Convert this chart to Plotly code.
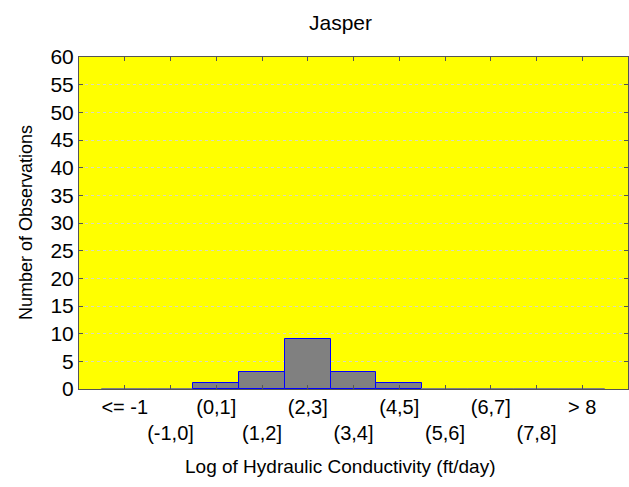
import plotly.graph_objects as go

categories = ["<= -1", "(-1,0]", "(0,1]", "(1,2]", "(2,3]", "(3,4]",
              "(4,5]", "(5,6]", "(6,7]", "(7,8]", "> 8"]
counts = [0, 0, 1, 3, 9, 3, 1, 0, 0, 0, 0]

positions = list(range(len(categories)))
# alternate labels onto two rows
tick_text = [c if i % 2 == 0 else "<br>" + c for i, c in enumerate(categories)]
# empty bins show only as a thin gray line
outline = ["#0000ff" if c > 0 else "#808080" for c in counts]

# plot area in pixels
L, R, T, B = 79, 628, 57, 389
W, H = R - L, B - T

fig = go.Figure()
fig.add_trace(go.Bar(
    x=positions, y=counts, width=1,
    marker=dict(color="#808080", line=dict(color=outline, width=1)),
))

fig.update_layout(
    width=629, height=487,
    margin=dict(l=L, r=629 - R, t=T, b=487 - B),
    paper_bgcolor="white",
    plot_bgcolor="#ffff00",
    font=dict(family="Arial, Liberation Sans, sans-serif", color="black"),
    showlegend=False,
    bargap=0,
)
fig.add_annotation(text="Jasper", x=(340 - L) / W, y=1 + (T - 22) / H,
                   xref="paper", yref="paper", showarrow=False,
                   xanchor="center", yanchor="middle", font=dict(size=21))
fig.add_annotation(text="Log of Hydraulic Conductivity (ft/day)",
                   x=(340 - L) / W, y=-(466 - B) / H,
                   xref="paper", yref="paper", showarrow=False,
                   xanchor="center", yanchor="middle", font=dict(size=19))
fig.add_annotation(text="Number of Observations", textangle=-90,
                   x=-(L - 26) / W, y=0.5,
                   xref="paper", yref="paper", showarrow=False,
                   xanchor="center", yanchor="middle", font=dict(size=18))

fig.update_xaxes(
    range=[-1, 11], tickvals=positions, ticktext=tick_text, tickangle=0,
    tickfont=dict(size=20), ticks="inside", ticklen=4, tickcolor="#555555",
    showline=True, linecolor="#555555", linewidth=1, mirror="ticks",
    showgrid=False, zeroline=False, fixedrange=True,
)
fig.update_yaxes(
    range=[0, 60], dtick=5, tickfont=dict(size=21),
    ticks="inside", ticklen=4, tickcolor="#555555",
    showline=True, linecolor="#555555", linewidth=1, mirror="ticks",
    showgrid=True, gridcolor="#d9d9c0", griddash="dot", gridwidth=1,
    zeroline=False, fixedrange=True,
)

fig.write_html("out.html", config={"displayModeBar": False},
               post_script="document.body.style.margin='0';")
